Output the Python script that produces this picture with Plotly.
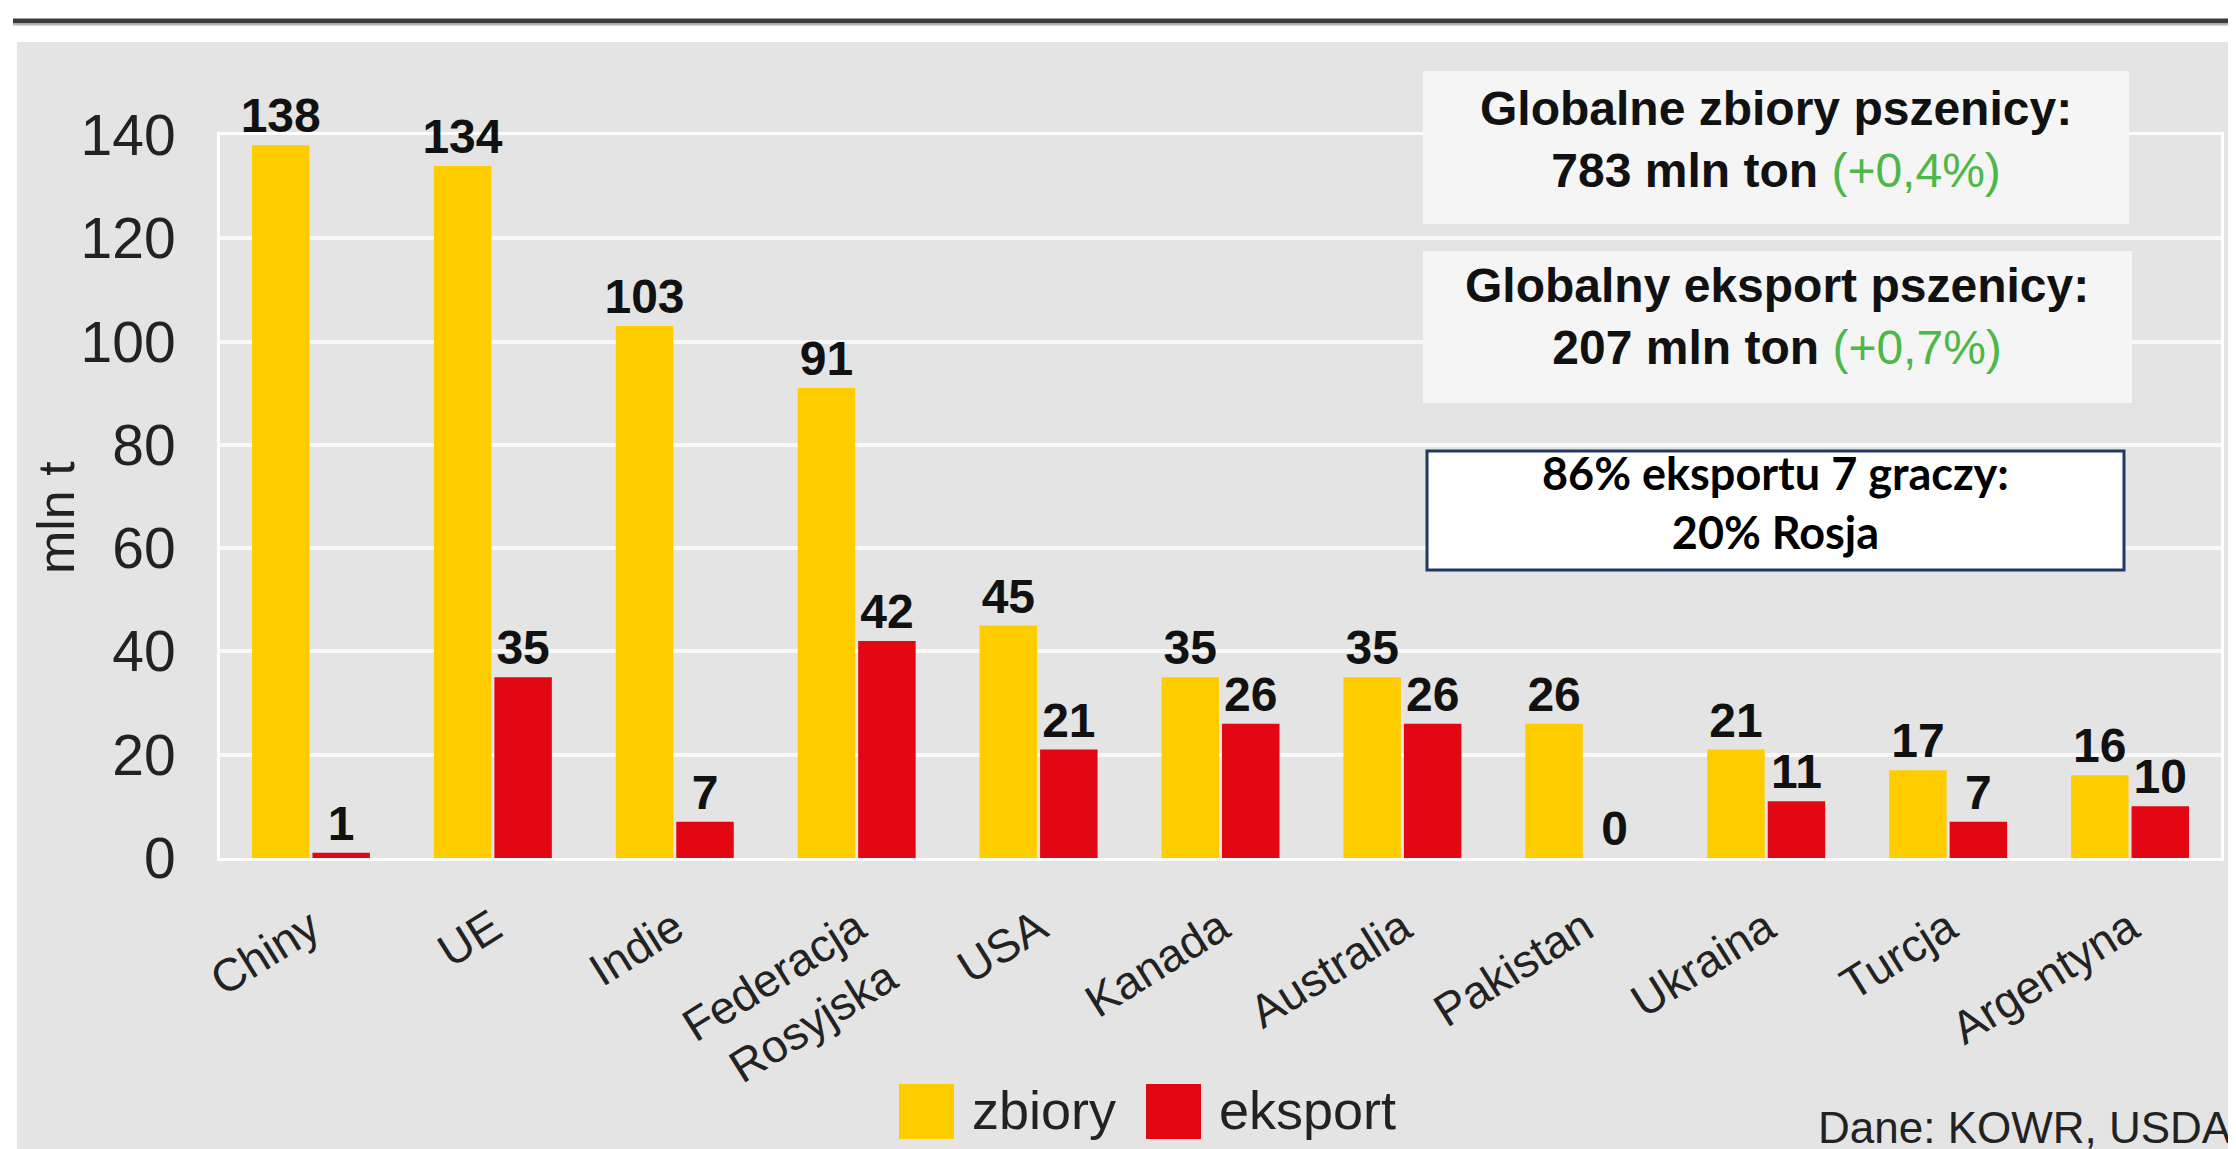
import plotly.graph_objects as go

categories = ["Chiny", "UE", "Indie", "Federacja<br>Rosyjska", "USA", "Kanada",
              "Australia", "Pakistan", "Ukraina", "Turcja", "Argentyna"]
zbiory = [138, 134, 103, 91, 45, 35, 35, 26, 21, 17, 16]
eksport = [1, 35, 7, 42, 21, 26, 26, 0, 11, 7, 10]
y_ticks = [0, 20, 40, 60, 80, 100, 120, 140]

YELLOW = "#FFCC00"
RED = "#E30613"
PANEL = "#E4E4E4"
FONT = "Arial, Liberation Sans, sans-serif"

W, H = 2236, 1149
L, R, T, B = 212, 2213, 127, 850


def px(x):
    return (x - L) / (R - L)


def py(y):
    return (B - y) / (B - T)


fig = go.Figure()
fig.add_trace(go.Bar(
    x=categories, y=zbiory, name="zbiory", marker=dict(color=YELLOW, line=dict(width=0)),
    text=[str(v) for v in zbiory], textposition="outside", cliponaxis=False,
    constraintext="none", textfont=dict(family=FONT, size=48, color="#111"),
    texttemplate="<b>%{text}</b>",
))
fig.add_trace(go.Bar(
    x=categories, y=eksport, name="eksport", marker=dict(color=RED, line=dict(width=0)),
    text=[str(v) for v in eksport], textposition="outside", cliponaxis=False,
    constraintext="none", textfont=dict(family=FONT, size=48, color="#111"),
    texttemplate="<b>%{text}</b>",
))

shapes = []
# background panel
shapes.append(dict(type="rect", xref="paper", yref="paper", layer="below",
                   x0=px(9), x1=px(W + 5), y0=py(H + 5), y1=py(34),
                   fillcolor=PANEL, line=dict(width=0)))
# top rule
shapes.append(dict(type="line", xref="paper", yref="paper",
                   x0=px(5), x1=px(W + 5), y0=py(13), y1=py(13),
                   line=dict(color="#3c3c3c", width=5)))
shapes.append(dict(type="line", xref="paper", yref="paper",
                   x0=px(5), x1=px(W + 5), y0=py(16.5), y1=py(16.5),
                   line=dict(color="#b5b5b5", width=2)))
# info boxes
shapes.append(dict(type="rect", xref="paper", yref="paper", layer="above",
                   x0=px(1415), x1=px(2121), y0=py(216), y1=py(63),
                   fillcolor="#F5F5F5", line=dict(width=0)))
shapes.append(dict(type="rect", xref="paper", yref="paper", layer="above",
                   x0=px(1415), x1=px(2124), y0=py(395), y1=py(243),
                   fillcolor="#F5F5F5", line=dict(width=0)))
shapes.append(dict(type="rect", xref="paper", yref="paper", layer="above",
                   x0=px(1419), x1=px(2116), y0=py(562), y1=py(443),
                   fillcolor="white", line=dict(color="#1F3864", width=3)))
# legend swatches
shapes.append(dict(type="rect", xref="paper", yref="paper",
                   x0=px(891), x1=px(946), y0=py(1131), y1=py(1076),
                   fillcolor=YELLOW, line=dict(width=0)))
shapes.append(dict(type="rect", xref="paper", yref="paper",
                   x0=px(1138), x1=px(1193), y0=py(1131), y1=py(1076),
                   fillcolor=RED, line=dict(width=0)))

GREEN = "#4DB848"
annotations = [
    dict(x=px(1768), y=py(132),
         text="<b>Globalne zbiory pszenicy:</b><br><b>783 mln ton </b>"
              "<span style='color:%s'>(+0,4%%)</span>" % GREEN,
         font=dict(family=FONT, size=48, color="#111")),
    dict(x=px(1769), y=py(308),
         text="<b>Globalny eksport pszenicy:</b><br><b>207 mln ton </b>"
              "<span style='color:%s'>(+0,7%%)</span>" % GREEN,
         font=dict(family=FONT, size=48, color="#111")),
    dict(x=px(1767), y=py(494),
         text="<b>86% eksportu 7 graczy:</b><br><b>20% Rosja</b>",
         font=dict(family="Lato, Open Sans, sans-serif", size=45, color="black")),
    dict(x=px(48), y=py(510), text="mln t", textangle=-90,
         font=dict(family=FONT, size=52, color="#222")),
    dict(x=px(962), y=py(1102), text="zbiory", xanchor="left",
         font=dict(family=FONT, size=54, color="#222")),
    dict(x=px(1209), y=py(1102), text="eksport", xanchor="left",
         font=dict(family=FONT, size=54, color="#222")),
    dict(x=px(2226), y=py(1119), text="Dane: KOWR, USDA", xanchor="right",
         font=dict(family=FONT, size=44, color="#222")),
]
for a in annotations:
    a.setdefault("xref", "paper")
    a.setdefault("yref", "paper")
    a.setdefault("showarrow", False)
    a.setdefault("yanchor", "middle")
    a.setdefault("xanchor", "center")

fig.update_layout(
    width=W, height=H,
    margin=dict(l=L, r=W - R, t=T, b=H - B, pad=0),
    paper_bgcolor="white", plot_bgcolor=PANEL,
    barmode="group", bargap=0.335, bargroupgap=0.05,
    showlegend=False,
    shapes=shapes, annotations=annotations,
    font=dict(family=FONT, color="#222"),
    xaxis=dict(
        type="category", tickangle=-32, tickfont=dict(family=FONT, size=46, color="#222"),
        showgrid=False, showline=True, mirror=True, linecolor="white", linewidth=3,
        ticks="", ticklabelstandoff=22, layer="below traces",
    ),
    yaxis=dict(
        range=[0, 140], tickvals=y_ticks, tickfont=dict(family=FONT, size=57, color="#222"),
        showgrid=True, gridcolor="#F8F8F8", gridwidth=4, zeroline=False,
        showline=True, mirror=True, linecolor="white", linewidth=3,
        ticks="", ticklabelstandoff=30, layer="below traces",
    ),
)

fig.write_html("out.html")
